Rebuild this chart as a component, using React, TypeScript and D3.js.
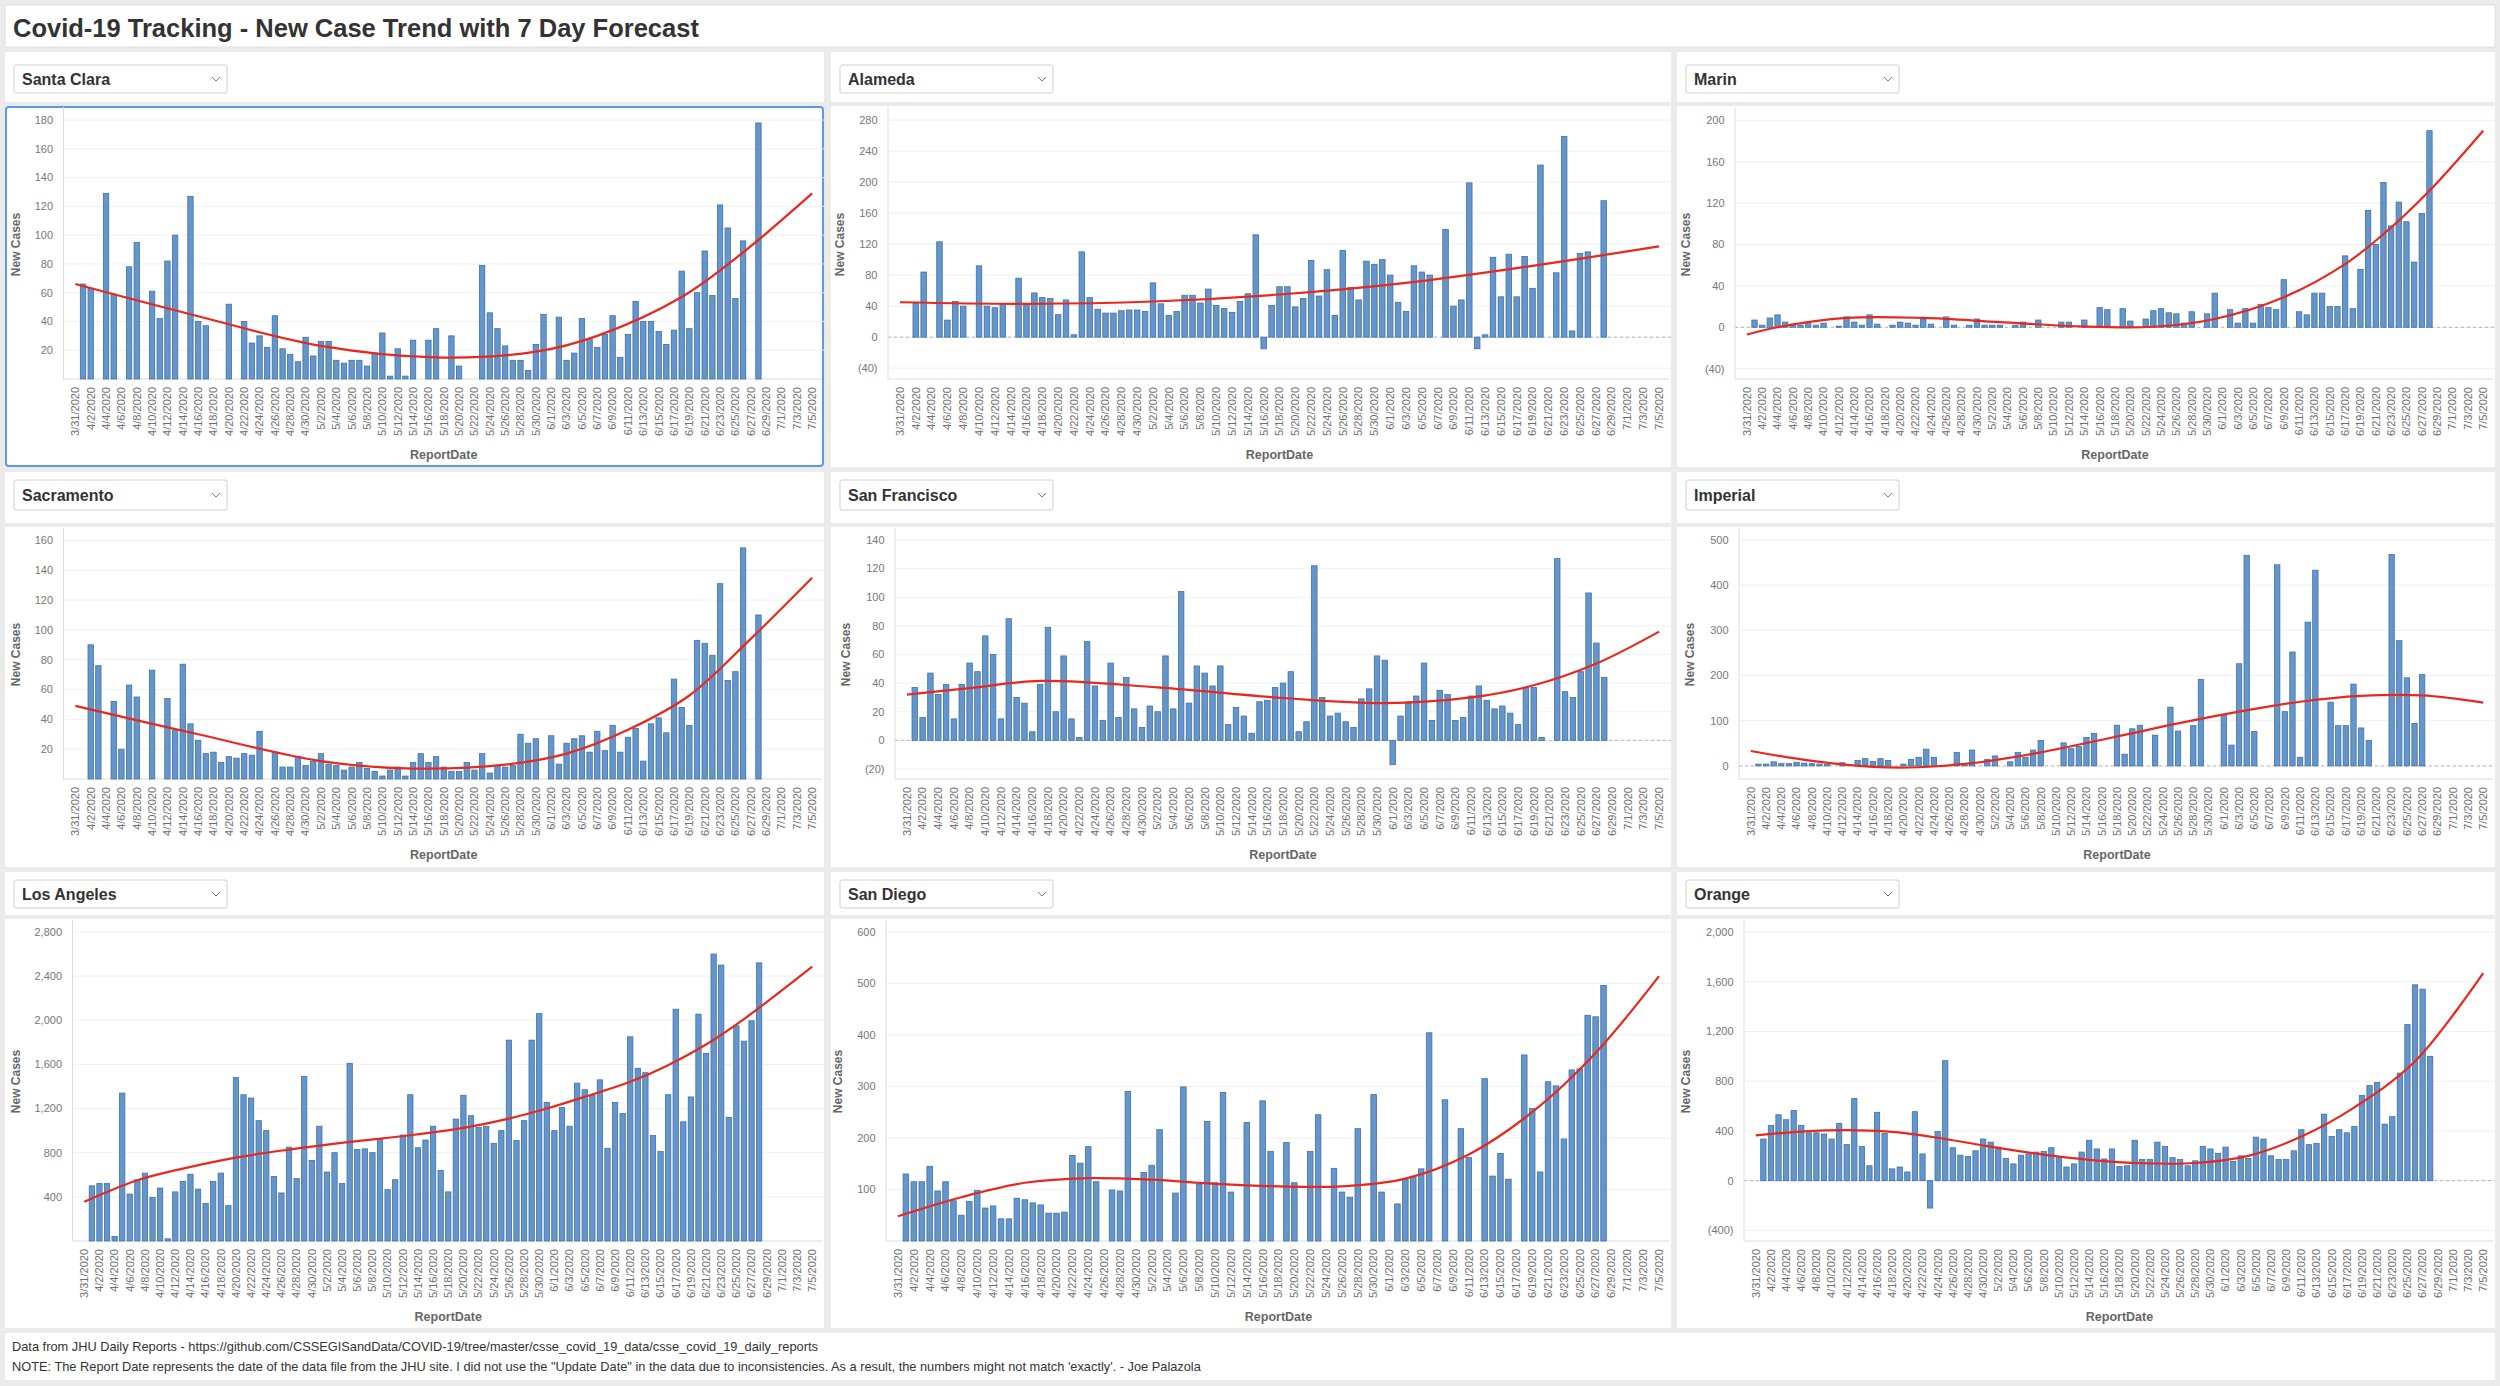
import React from "react";
import * as d3 from "d3";

const W = 2500;
const H = 1386;
const FONT = "'Liberation Sans', Arial, sans-serif";

// axis categories: 3/31/2020 .. 7/5/2020 (the last 7 days are the forecast)
const dates = d3.timeDay.range(new Date(2020, 2, 31), new Date(2020, 6, 6));
const dayLabel = d3.timeFormat("%-m/%-d/%Y");

// new cases per report date, 4/1/2020 .. 6/28/2020 (null = no report)
const santaClara = [
  66, 63, null, 129, 59, null, 78, 95, null, 61,
  42, 82, 100, null, 127, 40, 37, null, null, 52,
  null, 40, 25, 30, 22, 44, 21, 17, 12, 29,
  16, 26, 26, 13, 11, 13, 13, 9, 18, 32,
  2, 21, 2, 27, null, 27, 35, null, 30, 9,
  null, null, 79, 46, 35, 23, 13, 13, 6, 24,
  45, null, 43, 13, 18, 42, 28, 22, 31, 44,
  15, 31, 54, 40, 40, 33, 24, 34, 75, 35,
  60, 89, 58, 121, 105, 56, 96, null, 178,
];
const alameda = [
  null, 44, 84, null, 123, 22, 46, 40, null, 92,
  40, 38, 42, null, 76, 42, 57, 51, 50, 29,
  48, 3, 110, 51, 36, 31, 31, 34, 35, 35,
  33, 70, 43, 28, 33, 54, 54, 44, 62, 41,
  37, 32, 46, 56, 132, -15, 41, 65, 65, 39,
  50, 99, 53, 87, 28, 112, 64, 48, 98, 94,
  100, 80, 45, 33, 92, 84, 80, null, 139, 40,
  48, 199, -15, 3, 103, 52, 107, 52, 104, 63,
  222, null, 83, 259, 8, 108, 110, null, 176,
];
const marin = [
  7, 2, 9, 12, 5, 3, 2, 5, 2, 4,
  null, 1, 10, 5, 2, 12, 3, null, 2, 5,
  4, 2, 8, 3, null, 10, 2, null, 2, 8,
  2, 2, 2, null, 2, 5, null, 7, null, null,
  5, 5, null, 7, null, 19, 17, null, 18, 6,
  null, 8, 16, 18, 14, 13, 4, 15, null, 13,
  33, null, 17, 4, 18, 4, 22, 19, 17, 46,
  null, 15, 12, 33, 33, 20, 20, 69, 18, 56,
  113, 80, 140, 98, 121, 102, 63, 110, 190,
];
const sacramento = [
  null, 90, 76, null, 52, 20, 63, 55, null, 73,
  null, 54, 33, 77, 37, 26, 17, 18, 11, 15,
  14, 17, 16, 32, null, 18, 8, 8, 15, 9,
  12, 17, 10, 9, 6, 8, 11, 7, 5, 2,
  6, 8, 2, 11, 17, 11, 15, 8, 5, 5,
  11, 6, 17, 4, 9, 8, 9, 30, 24, 27,
  null, 29, 10, 24, 27, 29, 18, 32, 19, 36,
  18, 28, 34, 12, 37, 41, 31, 67, 48, 36,
  93, 91, 83, 131, 66, 72, 155, null, 110,
];
const sanFrancisco = [
  37, 16, 47, 32, 39, 15, 39, 54, 48, 73,
  60, 15, 85, 30, 26, 6, 39, 79, 20, 59,
  15, 2, 69, 38, 14, 54, 16, 44, 22, 9,
  24, 20, 59, 22, 104, 26, 52, 47, 38, 52,
  11, 23, 17, 5, 27, 28, 37, 40, 48, 6,
  13, 122, 30, 17, 19, 13, 9, 29, 36, 59,
  56, -17, 17, 27, 31, 54, 14, 35, 32, 14,
  16, 31, 38, 28, 22, 24, 19, 11, 37, 37,
  2, null, 127, 34, 30, 48, 103, 68, 44,
];
const imperial = [
  4, 4, 9, 5, 5, 8, 6, 5, 4, 3,
  null, 7, null, 12, 16, 10, 16, 12, null, 4,
  14, 19, 37, 19, null, null, 30, 4, 35, null,
  14, 22, null, 9, 30, 19, 35, 56, null, null,
  51, 38, 43, 63, 72, null, null, 90, 26, 82,
  90, null, 68, null, 130, 77, null, 89, 191, null,
  null, 113, 46, 226, 466, 76, null, null, 445, 120,
  252, 19, 318, 433, null, 141, 89, 89, 181, 84,
  56, null, null, 468, 277, 195, 94, 202, null,
];
const losAngeles = [
  500, 520, 520, 40, 1340, 425, 555, 615, 395, 480,
  20, 445, 540, 605, 470, 340, 540, 615, 320, 1480,
  1325, 1295, 1090, 1000, 585, 435, 850, 565, 1490, 730,
  1040, 625, 800, 520, 1610, 830, 835, 800, 920, 465,
  555, 960, 1325, 845, 915, 1040, 640, 445, 1105, 1320,
  1135, 1030, 1040, 885, 1000, 1820, 910, 1090, 1820, 2060,
  1255, 1000, 1210, 1040, 1430, 1370, 1320, 1460, 840, 1255,
  1155, 1850, 1565, 1525, 955, 810, 1325, 2100, 1080, 1305,
  2055, 1700, 2600, 2500, 1120, 1950, 1810, 1995, 2520,
];
const sanDiego = [
  130, 115, 115, 145, 97, 115, 78, 50, 77, 98,
  64, 68, 43, 43, 83, 80, 74, 70, 54, 54,
  56, 166, 151, 183, 115, null, 99, 97, 290, null,
  133, 147, 216, null, 93, 299, null, 110, 232, 113,
  288, 95, null, 230, null, 272, 174, null, 191, 113,
  null, 174, 245, null, 141, 95, 85, 218, null, 284,
  95, null, 72, 120, 124, 140, 404, null, 274, null,
  218, 162, null, 315, 126, 170, 120, null, 361, 257,
  134, 309, 301, 198, 332, 334, 438, 435, 496,
];
const orange = [
  335, 445, 530, 490, 565, 445, 385, 385, 375, 335,
  460, 290, 660, 275, 120, 550, 380, 95, 110, 70,
  555, 215, -220, 395, 965, 265, 205, 195, 240, 335,
  310, 270, 180, 135, 205, 215, 230, 235, 265, 185,
  110, 135, 230, 325, 255, 175, 255, 115, 120, 325,
  170, 170, 310, 275, 185, 170, 120, 160, 275, 255,
  220, 270, 155, 200, 180, 350, 335, 200, 170, 170,
  240, 410, 290, 300, 535, 355, 410, 385, 435, 685,
  765, 790, 455, 515, 865, 1255, 1575, 1540, 1000,
];

// trend line: [day index from 3/31, value]
const santaClaraTrend = [[0, 66], [15, 45], [32, 23], [47, 15], [60, 19], [68, 30], [79, 57], [87, 88], [96, 129]];
const alamedaTrend = [[0, 45], [16, 43], [32, 46], [48, 55], [64, 70], [80, 92], [96, 117]];
const marinTrend = [[0, -7], [4, 0], [13, 9], [23, 9], [33, 5], [43, 1], [53, 0.5], [61, 8], [70, 29], [78, 61], [83, 90], [89, 132], [96, 190]];
const sacramentoTrend = [[0, 49], [16, 30], [32, 12], [44, 7], [56, 9.6], [64, 17], [72, 33], [80, 56], [88, 94], [96, 135]];
const sanFranciscoTrend = [[0, 32], [8, 36.5], [17, 41.5], [32, 37], [48, 29.6], [61, 26], [72, 30], [80, 38.5], [88, 53.7], [96, 76]];
const imperialTrend = [[0, 33], [8, 11], [16, -2], [22, -3], [29, 6], [38, 30], [48, 65], [56, 94], [64, 120], [72, 142], [80, 155], [88, 156], [96, 140]];
const losAngelesTrend = [[0, 355], [7, 550], [13, 656], [20, 756], [27, 828], [35, 898], [43, 958], [50, 1025], [56, 1109], [61, 1200], [66, 1306], [72, 1442], [77, 1593], [82, 1780], [87, 2010], [96, 2485]];
const sanDiegoTrend = [[0, 48], [8, 85], [16, 113], [24, 122], [32, 119], [40, 111], [48, 106], [56, 106], [64, 121], [72, 168], [80, 250], [88, 365], [96, 514]];
const orangeTrend = [[0, 365], [6, 395], [12, 407], [18, 392], [24, 345], [30, 283], [37, 218], [44, 168], [51, 140], [58, 142], [65, 200], [72, 355], [79, 590], [87, 960], [96, 1668]];

// y axis tick labels
const santaClaraTicks = [20, 40, 60, 80, 100, 120, 140, 160, 180];
const alamedaTicks = [-40, 0, 40, 80, 120, 160, 200, 240, 280];
const marinTicks = [-40, 0, 40, 80, 120, 160, 200];
const sacramentoTicks = [20, 40, 60, 80, 100, 120, 140, 160];
const sanFranciscoTicks = [-20, 0, 20, 40, 60, 80, 100, 120, 140];
const imperialTicks = [0, 100, 200, 300, 400, 500];
const losAngelesTicks = [400, 800, 1200, 1600, 2000, 2400, 2800];
const sanDiegoTicks = [100, 200, 300, 400, 500, 600];
const orangeTicks = [-400, 0, 400, 800, 1200, 1600, 2000];

const panels = [
  { name: "Santa Clara", values: santaClara, trend: santaClaraTrend, ticks: santaClaraTicks, domain: [0, 187], col: 0, row: 0, axis: 58.5, title: 11 },
  { name: "Alameda", values: alameda, trend: alamedaTrend, ticks: alamedaTicks, domain: [-54, 293], col: 1, row: 0, axis: 57, title: 9 },
  { name: "Marin", values: marin, trend: marinTrend, ticks: marinTicks, domain: [-50, 210], col: 2, row: 0, axis: 58, title: 9 },
  { name: "Sacramento", values: sacramento, trend: sacramentoTrend, ticks: sacramentoTicks, domain: [0, 167], col: 0, row: 1, axis: 58.5, title: 11 },
  { name: "San Francisco", values: sanFrancisco, trend: sanFranciscoTrend, ticks: sanFranciscoTicks, domain: [-27, 147], col: 1, row: 1, axis: 64, title: 15 },
  { name: "Imperial", values: imperial, trend: imperialTrend, ticks: imperialTicks, domain: [-29, 522], col: 2, row: 1, axis: 62, title: 13 },
  { name: "Los Angeles", values: losAngeles, trend: losAngelesTrend, ticks: losAngelesTicks, domain: [0, 2890], col: 0, row: 2, axis: 67.5, title: 11 },
  { name: "San Diego", values: sanDiego, trend: sanDiegoTrend, ticks: sanDiegoTicks, domain: [0, 619], col: 1, row: 2, axis: 55, title: 7 },
  { name: "Orange", values: orange, trend: orangeTrend, ticks: orangeTicks, domain: [-485, 2080], col: 2, row: 2, axis: 67, title: 9 },
];

const cols = [[5, 824], [831, 1671], [1677, 2495]];
const rows = [
  { dd: [52, 102], sel: [65, 93], box: [106, 467], plot: [110, 379] },
  { dd: [472, 523], sel: [480, 510], box: [527, 867], plot: [530, 779] },
  { dd: [872, 915], sel: [880, 908], box: [919, 1328], plot: [922, 1241] },
];

const fmt = (v: number) => (v < 0 ? `(${d3.format(",")(-v)})` : d3.format(",")(v));

function Panel({ p }: { p: any }) {
  const [c0, c1] = cols[p.col];
  const r = rows[p.row];
  const axisX = c0 + p.axis;
  const x = d3
    .scaleBand<number>()
    .domain(d3.range(dates.length))
    .range([axisX + 8, c1 - 8])
    .paddingInner(0.3)
    .paddingOuter(0.15);
  const bw = x.bandwidth();
  const cx = (i: number) => (x(i) as number) + bw / 2;
  const y = d3.scaleLinear().domain(p.domain).range([r.plot[1], r.plot[0]]);
  const y0 = y(0);
  const line = d3
    .line<number[]>()
    .x(d => cx(d[0]))
    .y(d => y(d[1]))
    .curve(d3.curveCatmullRom.alpha(0.5));
  const selected = p.col === 0 && p.row === 0;
  const selX = c0 + 9;
  const selW = 213;
  const midY = (r.plot[0] + r.plot[1]) / 2;

  return (
    <g>
      {/* filter row */}
      <rect x={c0} y={r.dd[0]} width={c1 - c0} height={r.dd[1] - r.dd[0]} fill="#fff" />
      <rect x={selX} y={r.sel[0]} width={selW} height={r.sel[1] - r.sel[0]} rx={2} fill="#fff" stroke="#cfcfcf" />
      <text x={selX + 8} y={(r.sel[0] + r.sel[1]) / 2} dy="0.36em" fontSize={16} fontWeight="bold" fill="#333">
        {p.name}
      </text>
      <path
        d={`M${selX + selW - 15},${(r.sel[0] + r.sel[1]) / 2 - 2} l4,4 l4,-4`}
        fill="none"
        stroke="#777"
        strokeWidth={1}
      />

      {/* chart box */}
      <rect
        x={c0 + (selected ? 1 : 0)}
        y={r.box[0] + (selected ? 1 : 0)}
        width={c1 - c0 - (selected ? 2 : 0)}
        height={r.box[1] - r.box[0] - (selected ? 2 : 0)}
        rx={selected ? 3 : 0}
        fill="#fff"
        stroke={selected ? "#5a9ae6" : "none"}
        strokeWidth={2}
      />

      {p.ticks.map((t: number) => (
        <line key={"g" + t} x1={axisX} x2={c1} y1={y(t)} y2={y(t)} stroke="#f0f0f0" />
      ))}
      {p.domain[0] < 0 && (
        <line x1={axisX} x2={c1} y1={y0} y2={y0} stroke="#b5b5b5" strokeDasharray="3,3" />
      )}
      <line x1={axisX} x2={axisX} y1={r.box[0] + 1} y2={r.plot[1]} stroke="#dcdcdc" />
      <line x1={axisX} x2={c1 - 2} y1={r.plot[1]} y2={r.plot[1]} stroke="#dcdcdc" />

      {p.ticks.map((t: number) => (
        <text key={"t" + t} x={axisX - 10.5} y={y(t)} dy="0.35em" textAnchor="end" fontSize={11} fill="#777">
          {fmt(t)}
        </text>
      ))}

      {p.values.map((v: number | null, i: number) =>
        v == null ? null : (
          <rect
            key={i}
            x={x(i + 1)}
            y={Math.min(y(v), y0)}
            width={bw}
            height={Math.max(0.8, Math.abs(y(v) - y0))}
            fill="#6496cc"
            stroke="#3f70a9"
            strokeWidth={0.8}
          />
        )
      )}

      <path d={line(p.trend) || ""} fill="none" stroke="#e8281e" strokeWidth={2.2} />

      {dates.map((d, i) =>
        i % 2 === 0 ? (
          <text
            key={"x" + i}
            transform={`translate(${cx(i)},${r.plot[1] + 8}) rotate(-90)`}
            dy="0.35em"
            textAnchor="end"
            fontSize={11}
            fill="#6e6e6e"
          >
            {dayLabel(d)}
          </text>
        ) : null
      )}

      <text
        transform={`translate(${c0 + p.title},${midY}) rotate(-90)`}
        dy="0.35em"
        textAnchor="middle"
        fontSize={12}
        fontWeight="bold"
        fill="#666"
      >
        New Cases
      </text>
      <text x={(axisX + c1) / 2} y={r.plot[1] + 80} textAnchor="middle" fontSize={12.5} fontWeight="bold" fill="#666">
        ReportDate
      </text>
    </g>
  );
}

export default function App() {
  return (
    <svg width={W} height={H} style={{ display: "block", fontFamily: FONT, background: "#ebebeb" }}>
      <style>{`body{margin:0;background:#ebebeb;overflow:hidden}`}</style>
      <rect x={0} y={0} width={W} height={H} fill="#ebebeb" />
      <rect x={5} y={5} width={2490} height={42} fill="#fff" stroke="#e0e0e0" />
      <text x={13} y={37} fontSize={25.5} fontWeight="bold" fill="#333">
        Covid-19 Tracking - New Case Trend with 7 Day Forecast
      </text>

      {panels.map(p => (
        <Panel key={p.name} p={p} />
      ))}

      <rect x={5} y={1333} width={2490} height={47} fill="#fff" />
      <text x={12} y={1351} fontSize={12.8} fill="#333">
        Data from JHU Daily Reports - https://github.com/CSSEGISandData/COVID-19/tree/master/csse_covid_19_data/csse_covid_19_daily_reports
      </text>
      <text x={12} y={1371} fontSize={12.8} fill="#333">
        NOTE: The Report Date represents the date of the data file from the JHU site. I did not use the "Update Date" in the data due to inconsistencies. As a result, the numbers might not match 'exactly'. - Joe Palazola
      </text>
    </svg>
  );
}
